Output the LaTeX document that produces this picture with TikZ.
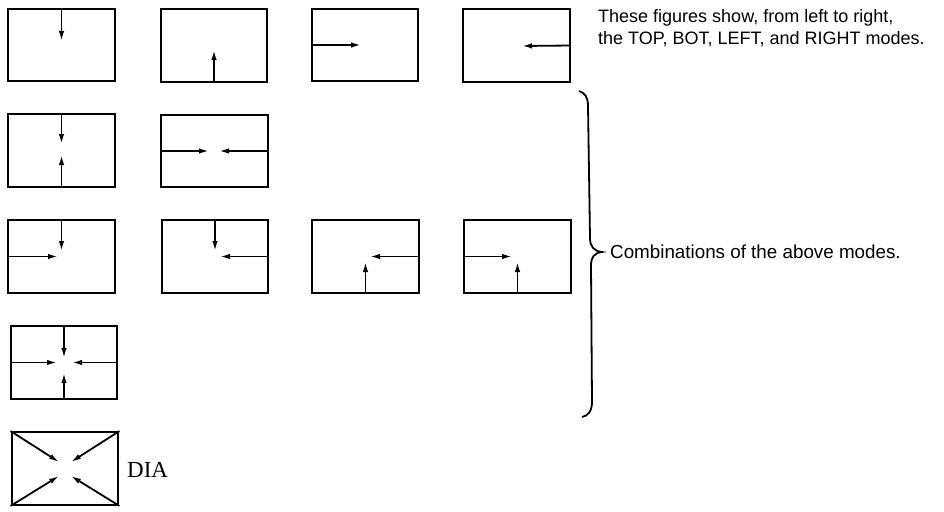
\documentclass[tikz,border=0pt]{standalone}
\usepackage{fontspec}
\setmainfont{Liberation Serif}
\newfontfamily\helv{Liberation Sans}
\usetikzlibrary{arrows.meta}

\begin{document}
\begin{tikzpicture}[x=1pt,y=-1pt,
  mode/.style={draw,line width=2.4pt,minimum width=106.5pt,minimum height=72.5pt,inner sep=0pt},
  ar/.style={line width=1.8pt,-{Latex[length=10pt,width=5.5pt]}},
  note/.style={anchor=base west,align=left,inner sep=0pt,font=\helv\fontsize{18}{22}\selectfont}]
\useasboundingbox (0,0) rectangle (944,511);
% the four single modes
\node[mode] (11) at (61.5,45){};
\node[mode] (12) at (214,45.5){};
\node[mode] (13) at (365,45){};
\node[mode] (14) at (516.5,45.5){};
% combinations
\node[mode] (21) at (61.5,150.5){};
\node[mode] (22) at (214.5,151){};
\node[mode] (31) at (61.5,256.5){};
\node[mode] (32) at (215,256.5){};
\node[mode] (33) at (365.5,256.5){};
\node[mode] (34) at (517.5,256.5){};
\node[mode] (41) at (64,362.5){};
% diagonal mode
\node[mode] (51) at (65,468.5){};
% arrow tips
\coordinate (t11) at (61.5,41);
\coordinate (t12) at (214,50);
\coordinate (t13) at (361,45);
\coordinate (t14) at (522,46);
\coordinate (t21a) at (61.5,144);
\coordinate (t21b) at (61.5,155);
\coordinate (t22a) at (209,151);
\coordinate (t22b) at (219,151);
\coordinate (t31a) at (61.5,251);
\coordinate (t31b) at (58,256.5);
\coordinate (t32a) at (215,251);
\coordinate (t32b) at (220,256.5);
\coordinate (t33a) at (370,256.5);
\coordinate (t33b) at (365.5,262);
\coordinate (t34a) at (512,256.5);
\coordinate (t34b) at (517.5,262);
\coordinate (t41a) at (64,358);
\coordinate (t41b) at (64,373);
\coordinate (t41c) at (57,362.5);
\coordinate (t41d) at (72,362.5);
\coordinate (t51a) at (59,462);
\coordinate (t51b) at (71,462);
\coordinate (t51c) at (59,476);
\coordinate (t51d) at (71,476);
\foreach \b/\a/\t in {11/north/t11,12/south/t12,13/west/t13,14/east/t14,
  21/north/t21a,21/south/t21b,22/west/t22a,22/east/t22b,
  31/north/t31a,31/west/t31b,32/north/t32a,32/east/t32b,
  33/east/t33a,33/south/t33b,34/west/t34a,34/south/t34b,
  41/north/t41a,41/south/t41b,41/west/t41c,41/east/t41d,
  51/north west/t51a,51/north east/t51b,51/south west/t51c,51/south east/t51d}
  \draw[ar] (\b.\a) -- (\t);
\node[anchor=base west,inner sep=0pt,font=\fontsize{23}{27}\selectfont] (dia) at (127,477) {DIA};
% texts
\node[note] (single) at (598,45) {These figures show, from left to right,\\the TOP, BOT, LEFT, and RIGHT modes.};
\draw[line width=1.8pt] (579,91) .. controls (585,93) and (588,97) .. (588,106) -- (590,238)
  .. controls (590,247) and (594,251) .. (602,252) .. controls (594,253) and (591,257) .. (591,266)
  -- (592,402) .. controls (592,411) and (588,416) .. (582,417);
\node[note,font=\helv\fontsize{18.8}{22}\selectfont] (combi) at (610,258) {Combinations of the above modes.};
\end{tikzpicture}
\end{document}
